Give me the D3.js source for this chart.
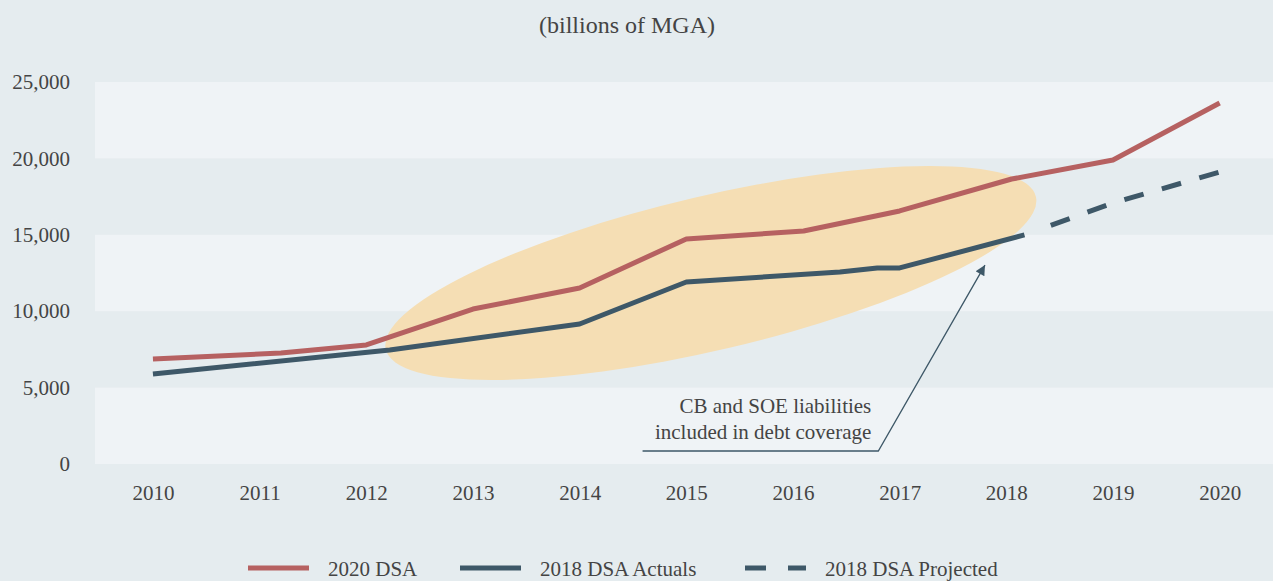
<!DOCTYPE html>
<html>
<head>
<meta charset="utf-8">
<script src="https://cdn.jsdelivr.net/npm/d3@7"></script>
<style>
  body { margin: 0; background: #e5ecef; }
  svg { display: block; font-family: "Liberation Serif", "Times New Roman", serif; }
  .tick text { fill: #444; font-size: 21px; }
</style>
</head>
<body>
<svg id="chart"></svg>
<script>
// --- DATA ---
const years = [2010, 2011, 2012, 2013, 2014, 2015, 2016, 2017, 2018, 2019, 2020];
const yTicks = [0, 5000, 10000, 15000, 20000, 25000];

// 2020 DSA (billions of MGA)
const dsa2020Years = [2010, 2011.2, 2012, 2013, 2014, 2015, 2016.1, 2017, 2018.05, 2019, 2020];
const dsa2020Values = [6870, 7260, 7790, 10140, 11520, 14730, 15250, 16560, 18650, 19900, 23630];

// 2018 DSA actuals
const actualYears = [2010, 2012.22, 2014, 2015, 2016.44, 2016.79, 2017, 2018.17];
const actualValues = [5890, 7460, 9160, 11910, 12570, 12830, 12830, 14990];

// 2018 DSA projected
const projYears = [2018.17, 2019, 2020];
const projValues = [14990, 17080, 19110];

const legendLabels = ["2020 DSA", "2018 DSA Actuals", "2018 DSA Projected"];
const noteLines = ["CB and SOE liabilities", "included in debt coverage"];

// --- SETUP ---
const W = 1273, H = 581;
const red = "#b66161", navy = "#3e5868", ink = "#444";

const svg = d3.select("#chart").attr("width", W).attr("height", H);

svg.append("rect").attr("width", W).attr("height", H).attr("fill", "#e5ecef");

const x = d3.scaleLinear().domain([2009.5, 2020.5]).range([99.6, 1273]);
const y = d3.scaleLinear().domain([0, 25000]).range([464, 82]);

// alternating bands
const bands = [[0, 5000], [10000, 15000], [20000, 25000]];
svg.append("g").selectAll("rect")
    .data(bands)
    .join("rect")
    .attr("x", 95)
    .attr("width", W - 95)
    .attr("y", d => y(d[1]))
    .attr("height", d => y(d[0]) - y(d[1]))
    .attr("fill", "#eff3f6");

// title
svg.append("text")
    .attr("x", 627)
    .attr("y", 33)
    .attr("text-anchor", "middle")
    .attr("font-size", 24)
    .attr("fill", ink)
    .text("(billions of MGA)");

// axes
const xAxis = d3.axisBottom(x).tickValues(years).tickFormat(d3.format("d")).tickSize(0).tickPadding(21);
const yAxis = d3.axisLeft(y).tickValues(yTicks).tickFormat(d3.format(",")).tickSize(0).tickPadding(0);

svg.append("g").attr("transform", "translate(0,464)").call(xAxis)
    .call(g => g.select(".domain").remove());
svg.append("g").attr("transform", "translate(70,0)").call(yAxis)
    .call(g => g.select(".domain").remove());

svg.selectAll(".tick text").attr("font-family", "Liberation Serif");

// --- HIGHLIGHT ELLIPSE ---
const ell = { year: 2015.23, value: 12500, rYears: 3.13, rValue: 5040, angle: -13.2 };
svg.append("ellipse")
    .attr("cx", 0).attr("cy", 0)
    .attr("rx", x(ell.year + ell.rYears) - x(ell.year))
    .attr("ry", y(0) - y(ell.rValue))
    .attr("transform", `translate(${x(ell.year)},${y(ell.value)}) rotate(${ell.angle})`)
    .attr("fill", "#f5deb4");

// --- LINES ---
const line = d3.line().x(d => x(d[0])).y(d => y(d[1]));

svg.append("path")
    .datum(d3.zip(actualYears, actualValues))
    .attr("d", line)
    .attr("fill", "none").attr("stroke", navy).attr("stroke-width", 5)
    .attr("stroke-linejoin", "round");

// projected: leading gap, then 20/19 dashes
svg.append("path")
    .datum(d3.zip(projYears, projValues))
    .attr("d", line)
    .attr("fill", "none").attr("stroke", navy).attr("stroke-width", 5)
    .attr("stroke-dasharray", "0,28,20,19,20,19,20,19,20,19,20,300");

svg.append("path")
    .datum(d3.zip(dsa2020Years, dsa2020Values))
    .attr("d", line)
    .attr("fill", "none").attr("stroke", red).attr("stroke-width", 5)
    .attr("stroke-linejoin", "round");

// --- ANNOTATION ---
svg.append("defs").append("marker")
    .attr("id", "arrow")
    .attr("viewBox", "0 0 10 10")
    .attr("refX", 10).attr("refY", 5)
    .attr("markerWidth", 14).attr("markerHeight", 10)
    .attr("markerUnits", "userSpaceOnUse")
    .attr("orient", "auto")
    .append("path")
    .attr("d", "M0,0 L10,5 L0,10 Z")
    .attr("fill", navy);

const note = { startYear: 2014.59, elbowYear: 2016.8, value: 850, tipYear: 2017.8, tipValue: 13020 };
svg.append("polyline")
    .attr("points", [
        [x(note.startYear), y(note.value)],
        [x(note.elbowYear), y(note.value)],
        [x(note.tipYear), y(note.tipValue)]
    ].map(p => p.join(",")).join(" "))
    .attr("fill", "none")
    .attr("stroke", navy)
    .attr("stroke-width", 1.3)
    .attr("marker-end", "url(#arrow)");

svg.append("g").selectAll("text")
    .data(noteLines)
    .join("text")
    .attr("x", x(note.elbowYear) - 7)
    .attr("y", (d, i) => y(note.value) - 38 + i * 26)
    .attr("text-anchor", "end")
    .attr("font-size", 21)
    .attr("fill", ink)
    .text(d => d);

// --- LEGEND ---
const legendX = [248, 460, 745];
const legendStyles = [
    { color: red, dash: null },
    { color: navy, dash: null },
    { color: navy, dash: "21,22" }
];
const legend = svg.append("g").attr("transform", "translate(0,568)");
legendLabels.forEach((label, i) => {
    legend.append("line")
        .attr("x1", legendX[i]).attr("x2", legendX[i] + 61)
        .attr("stroke", legendStyles[i].color)
        .attr("stroke-width", 5)
        .attr("stroke-dasharray", legendStyles[i].dash);
    legend.append("text")
        .attr("x", legendX[i] + 80)
        .attr("y", 8)
        .attr("font-size", 21)
        .attr("fill", ink)
        .text(label);
});
</script>
</body>
</html>
